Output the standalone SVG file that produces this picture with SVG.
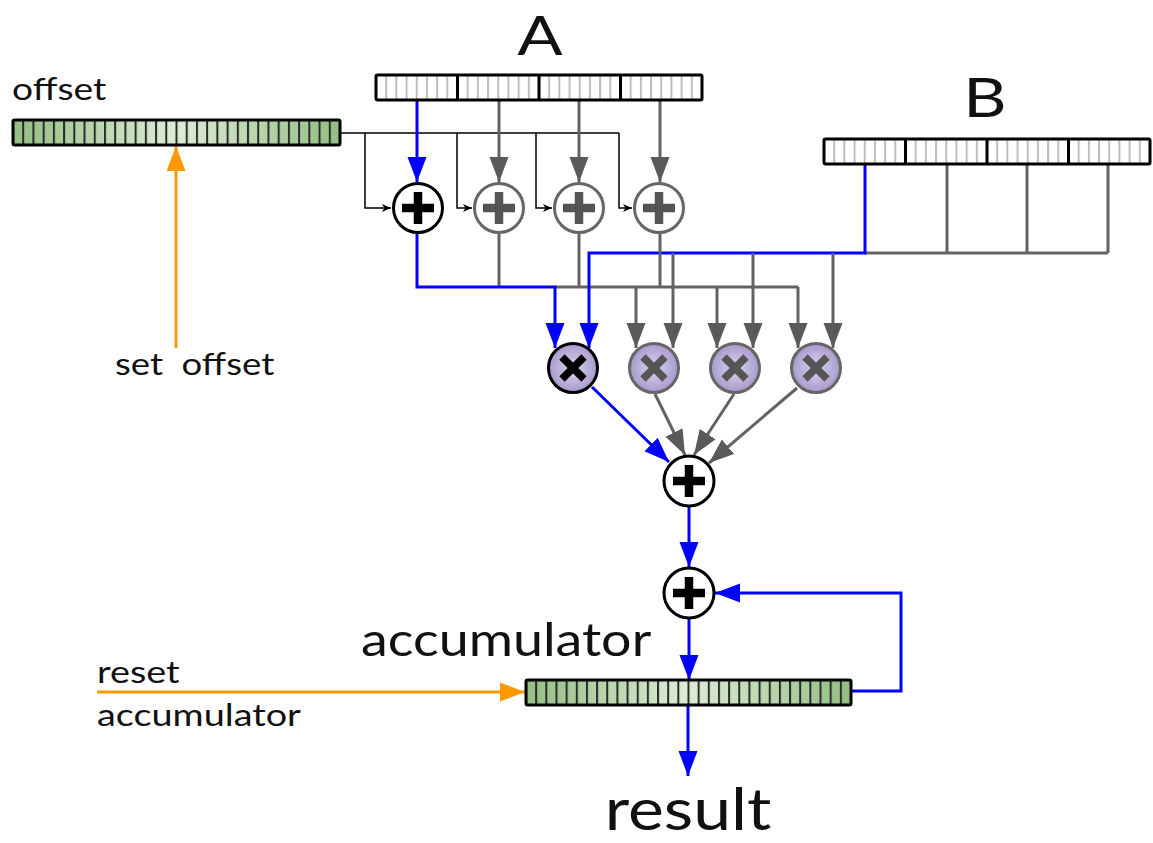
<svg xmlns="http://www.w3.org/2000/svg" width="1153" height="843" viewBox="0 0 1153 843">
  <style>
    text { font-family: Lato, "Liberation Sans", sans-serif; fill: #111; }
    .blue { fill: none; stroke: #0000ff; stroke-width: 3; }
    .grey { fill: none; stroke: #626262; stroke-width: 3; }
    .thin { fill: none; stroke: #000; stroke-width: 1.5; }
    .orange { fill: none; stroke: #ff9900; stroke-width: 3; }
    .frame { fill: none; stroke: #000; stroke-width: 3; }
    .add-k { fill: #fff; stroke: #000; stroke-width: 3; }
    .add-g { fill: #fff; stroke: #666; stroke-width: 3; }
    .mul-k { fill: url(#mulFill); stroke: #000; stroke-width: 3; }
    .mul-g { fill: url(#mulFill); stroke: #666; stroke-width: 3; }
    .plus-k { fill: none; stroke: #000; stroke-width: 8.5; }
    .plus-g { fill: none; stroke: #555; stroke-width: 8.5; }
    .x-k { fill: none; stroke: #000; stroke-width: 7.5; }
    .x-g { fill: none; stroke: #555; stroke-width: 7.5; }
  </style>
  <defs>
    <marker id="arrBlue" markerUnits="userSpaceOnUse" markerWidth="26" markerHeight="20" refX="25" refY="9.5" orient="auto">
      <path d="M0,0 L25,9.5 L0,19 z" fill="#0000ff"/>
    </marker>
    <marker id="arrGrey" markerUnits="userSpaceOnUse" markerWidth="26" markerHeight="20" refX="25" refY="9.5" orient="auto">
      <path d="M0,0 L25,9.5 L0,19 z" fill="#5a5a5a"/>
    </marker>
    <marker id="arrOrange" markerUnits="userSpaceOnUse" markerWidth="26" markerHeight="20" refX="25" refY="9.5" orient="auto">
      <path d="M0,0 L25,9.5 L0,19 z" fill="#ff9900"/>
    </marker>
    <marker id="arrThin" markerUnits="userSpaceOnUse" markerWidth="10" markerHeight="9" refX="9" refY="4" orient="auto">
      <path d="M0,0 L9,4 L0,8 L2.5,4 z" fill="#000"/>
    </marker>
    <radialGradient id="mulFill" cx="0.5" cy="0.5" r="0.5">
      <stop offset="0" stop-color="#dad3ee"/>
      <stop offset="1" stop-color="#a79acc"/>
    </radialGradient>
    <linearGradient id="greenFill" x1="0" y1="0" x2="1" y2="0">
      <stop offset="0" stop-color="#93be82"/>
      <stop offset="0.5" stop-color="#ddecd6"/>
      <stop offset="1" stop-color="#93be82"/>
    </linearGradient>
    <!-- bit cell separators -->
    <pattern id="cellsA" patternUnits="userSpaceOnUse" x="375" y="0" width="10.1875" height="843">
      <rect x="0" y="0" width="2" height="843" fill="#bdbdbd"/>
    </pattern>
    <pattern id="cellsB" patternUnits="userSpaceOnUse" x="823" y="0" width="10.1875" height="843">
      <rect x="0" y="0" width="2" height="843" fill="#bdbdbd"/>
    </pattern>
    <pattern id="cellsOff" patternUnits="userSpaceOnUse" x="12" y="0" width="10.219" height="843">
      <rect x="0" y="0" width="2" height="843" fill="#2a2a2a"/>
    </pattern>
    <pattern id="cellsAcc" patternUnits="userSpaceOnUse" x="525" y="0" width="10.156" height="843">
      <rect x="0" y="0" width="2" height="843" fill="#2a2a2a"/>
    </pattern>
  </defs>

  <rect width="1153" height="843" fill="#fff"/>

  <!-- wiring -->
  <g id="connectors">
    <!-- offset broadcast to the adders -->
    <path class="thin" d="M340,133 H619"/>
    <path class="thin" d="M365,133 V208 H391" marker-end="url(#arrThin)"/>
    <path class="thin" d="M457,133 V208 H472" marker-end="url(#arrThin)"/>
    <path class="thin" d="M536,133 V208 H552" marker-end="url(#arrThin)"/>
    <path class="thin" d="M619,133 V208 H632" marker-end="url(#arrThin)"/>

    <!-- A elements into the adders -->
    <path class="grey" d="M499,100 V182" marker-end="url(#arrGrey)"/>
    <path class="grey" d="M579,100 V182" marker-end="url(#arrGrey)"/>
    <path class="grey" d="M660,100 V182" marker-end="url(#arrGrey)"/>
    <path class="blue" d="M417,100 V182" marker-end="url(#arrBlue)"/>

    <!-- B elements -->
    <path class="grey" d="M947,164 V253 M1027,164 V253 M1108,164 V253 M865,253 H1108"/>

    <!-- adder outputs bus -->
    <path class="grey" d="M499,234 V287 M579,234 V287 M555,287 H798"/>
    <path class="grey" d="M636,287 V348" marker-end="url(#arrGrey)"/>
    <path class="grey" d="M717,287 V348" marker-end="url(#arrGrey)"/>
    <path class="grey" d="M798,287 V348" marker-end="url(#arrGrey)"/>

    <!-- B drops into the multipliers -->
    <path class="blue" d="M865,164 V253 H589 V348" marker-end="url(#arrBlue)"/>
    <path class="grey" d="M660,234 V287"/>
    <path class="grey" d="M673,253 V348" marker-end="url(#arrGrey)"/>
    <path class="grey" d="M753,253 V348" marker-end="url(#arrGrey)"/>
    <path class="grey" d="M833,253 V348" marker-end="url(#arrGrey)"/>
    <path class="blue" d="M417,234 V287 H555 V348" marker-end="url(#arrBlue)"/>

    <!-- products into the sum -->
    <path class="grey" d="M655,394 L685,455" marker-end="url(#arrGrey)"/>
    <path class="grey" d="M734,394 L694,455" marker-end="url(#arrGrey)"/>
    <path class="grey" d="M797,388 L709,463" marker-end="url(#arrGrey)"/>
    <path class="blue" d="M592,387 L669,462" marker-end="url(#arrBlue)"/>

    <!-- sum, accumulate, result -->
    <path class="blue" d="M689,507 V567" marker-end="url(#arrBlue)"/>
    <path class="blue" d="M689,619 V680" marker-end="url(#arrBlue)"/>
    <path class="blue" d="M851,691 H901 V593 H715" marker-end="url(#arrBlue)"/>
    <path class="blue" d="M688,705 V776" marker-end="url(#arrBlue)"/>

    <!-- control inputs -->
    <path class="orange" d="M176,348 V146" marker-end="url(#arrOrange)"/>
    <path class="orange" d="M97,692 H525" marker-end="url(#arrOrange)"/>
  </g>

  <!-- register A -->
  <g id="reg-a">
    <rect x="376" y="75" width="326" height="25" fill="#fff"/>
    <rect x="376" y="75" width="326" height="25" fill="url(#cellsA)"/>
    <path class="frame" d="M457.5,75 V100 M539,75 V100 M620.5,75 V100"/>
    <rect class="frame" x="376" y="75" width="326" height="25" rx="1.5"/>
    <text transform="translate(540,55) scale(1.22,1)" font-size="55" text-anchor="middle">A</text>
  </g>

  <!-- register B -->
  <g id="reg-b">
    <rect x="824" y="139" width="326" height="25" fill="#fff"/>
    <rect x="824" y="139" width="326" height="25" fill="url(#cellsB)"/>
    <path class="frame" d="M905.5,139 V164 M987,139 V164 M1068.5,139 V164"/>
    <rect class="frame" x="824" y="139" width="326" height="25" rx="1.5"/>
    <text transform="translate(985,117) scale(1.22,1)" font-size="55" text-anchor="middle">B</text>
  </g>

  <!-- offset register -->
  <g id="reg-offset">
    <rect x="13" y="120" width="327" height="25" fill="url(#greenFill)"/>
    <rect x="13" y="120" width="327" height="25" fill="url(#cellsOff)"/>
    <rect class="frame" x="13" y="120" width="327" height="25" rx="1.5"/>
    <text transform="translate(12,100) scale(1.24,1)" font-size="30">offset</text>
  </g>
  <text id="lbl-set-offset" transform="translate(115,375) scale(1.22,1)" font-size="30">set <tspan x="54.5">offset</tspan></text>

  <!-- per-lane adders -->
  <g id="add-1"><circle class="add-k" cx="418" cy="208" r="24.5"/><path class="plus-k" d="M402,208 H434 M418,192 V224"/></g>
  <g id="add-2"><circle class="add-g" cx="499" cy="208" r="24.5"/><path class="plus-g" d="M483,208 H515 M499,192 V224"/></g>
  <g id="add-3"><circle class="add-g" cx="579" cy="208" r="24.5"/><path class="plus-g" d="M563,208 H595 M579,192 V224"/></g>
  <g id="add-4"><circle class="add-g" cx="659" cy="208" r="24.5"/><path class="plus-g" d="M643,208 H675 M659,192 V224"/></g>

  <!-- multipliers -->
  <g id="mul-1"><circle class="mul-k" cx="573" cy="368" r="24.5"/><path class="x-k" d="M562,357 L584,379 M584,357 L562,379"/></g>
  <g id="mul-2"><circle class="mul-g" cx="654" cy="368" r="24.5"/><path class="x-g" d="M643,357 L665,379 M665,357 L643,379"/></g>
  <g id="mul-3"><circle class="mul-g" cx="735" cy="368" r="24.5"/><path class="x-g" d="M724,357 L746,379 M746,357 L724,379"/></g>
  <g id="mul-4"><circle class="mul-g" cx="816" cy="368" r="24.5"/><path class="x-g" d="M805,357 L827,379 M827,357 L805,379"/></g>

  <!-- reduction adder -->
  <g id="sum"><circle class="add-k" cx="689" cy="481" r="25"/><path class="plus-k" d="M673,481 H705 M689,465 V497"/></g>

  <!-- accumulate adder -->
  <g id="acc-add"><circle class="add-k" cx="689" cy="593" r="25"/><path class="plus-k" d="M673,593 H705 M689,577 V609"/></g>

  <!-- accumulator register -->
  <g id="reg-acc">
    <rect x="526" y="680" width="325" height="25" fill="url(#greenFill)"/>
    <rect x="526" y="680" width="325" height="25" fill="url(#cellsAcc)"/>
    <rect class="frame" x="526" y="680" width="325" height="25" rx="1.5"/>
    <text transform="translate(361,656) scale(1.17,1)" font-size="46">accumulator</text>
  </g>
  <text id="lbl-reset" transform="translate(97,683) scale(1.26,1)" font-size="30">reset</text>
  <text id="lbl-reset-2" transform="translate(97,726) scale(1.26,1)" font-size="30">accumulator</text>

  <text id="lbl-result" transform="translate(688,830) scale(1.17,1)" font-size="58" text-anchor="middle">result</text>
</svg>
